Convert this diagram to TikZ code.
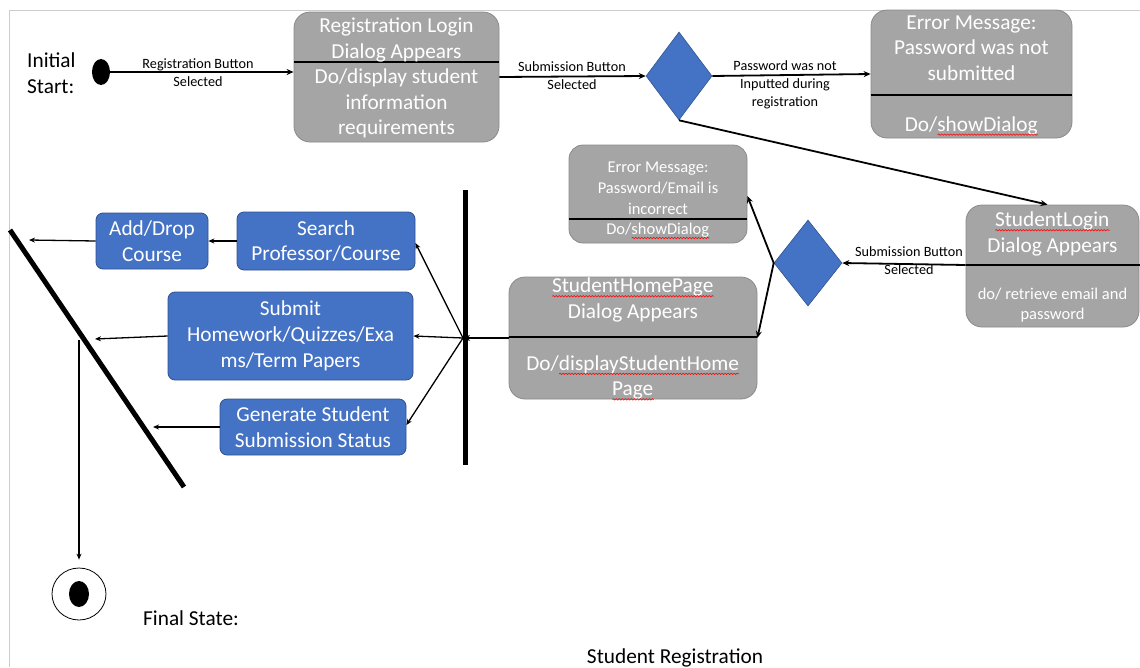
\documentclass[tikz,border=0pt]{standalone}
\usepackage{fontspec}
\setmainfont{Carlito}
\usetikzlibrary{arrows.meta,shapes.geometric,decorations.pathmorphing}
% red wavy underline used for the flagged words
\newsavebox\wavebox
\newcommand\spellwave[1]{\sbox\wavebox{#1}\rlap{\usebox\wavebox}%
  \tikz[baseline=0pt]\draw[red, line width=0.6pt, sharp corners, decorate,
    decoration={snake, amplitude=0.7pt, segment length=3pt}] (0pt,-3.5pt) -- (\wd\wavebox,-3.5pt);}
\definecolor{boxgray}{HTML}{A5A5A5}
\definecolor{boxedge}{HTML}{8A8A8A}
\definecolor{uiblue}{HTML}{4472C4}
\definecolor{blueedge}{HTML}{2F528F}
\definecolor{pagerule}{HTML}{CCCCCC}
\tikzset{
  graybox/.style={draw=boxedge, fill=boxgray, rounded corners=16pt, line width=0.8pt, inner sep=0pt},
  bluebox/.style={draw=blueedge, fill=uiblue, rounded corners=7pt, line width=0.8pt, inner sep=0pt,
    text=white, align=center, font=\fontsize{21.3}{25.8}\selectfont},
  bigtext/.style={text=white, align=center, inner sep=0pt, font=\fontsize{21.3}{25.6}\selectfont},
  smalltext/.style={text=white, align=center, inner sep=0pt, font=\fontsize{16.5}{20.8}\selectfont},
  caption/.style={align=left, inner sep=0pt, font=\fontsize{21.3}{26}\selectfont},
  guard/.style={align=center, inner sep=0pt, font=\fontsize{14.2}{17.8}\selectfont},
  divider/.style={line width=2pt},
  flow/.style={-{Stealth[length=7pt,width=6pt]}, line width=1.8pt},
  subflow/.style={-{Stealth[length=6pt,width=5pt]}, line width=1.3pt},
  decision/.style={diamond, fill=uiblue, draw=blueedge, line width=0.6pt, inner sep=0pt,
    minimum width=66pt, minimum height=88pt},
  bar/.style={line width=5pt}
}
\begin{document}
\begin{tikzpicture}[x=1pt, y=-1pt]
\useasboundingbox (0,0) rectangle (1140,667);

% page rules
\coordinate (pageTL) at (9,10);
\coordinate (pageTR) at (1140,10);
\coordinate (pageBL) at (9,667);
\draw[pagerule, line width=1pt] (pageTR) -- (pageTL) -- (pageBL);

% start
\node[caption, anchor=west] (startlbl) at (27,73) {Initial\\Start:};
\node[ellipse, fill=black, minimum width=18pt, minimum height=26pt, inner sep=0pt] (init) at (101,72) {};

% registration dialog
\node[graybox, minimum width=205pt, minimum height=130pt] (reg) at (396.5,77) {};
\draw[divider] (reg.west |- 0,62) -- (reg.east |- 0,62);
\node[bigtext] (regtxt) at (396.5,78) {Registration Login\\Dialog Appears\\Do/display student\\information\\requirements};

% first decision
\node[decision] (d1) at (679,76) {};

% password error
\node[graybox, minimum width=201pt, minimum height=128pt] (err1) at (971.5,74) {};
\draw[divider] (err1.west |- 0,95) -- (err1.east |- 0,95);
\node[bigtext] (err1top) at (971.5,48) {Error Message:\\Password was not\\submitted};
\node[bigtext] (err1bot) at (971.5,126) {Do/\spellwave{showDialog}};

% student login dialog
\node[graybox, minimum width=173pt, minimum height=122pt] (login) at (1052.5,266) {};
\coordinate (loginR) at (1140,265);
\draw[divider] (login.west |- 0,265) -- (loginR);
\node[bigtext] (logintop) at (1052.5,234) {\spellwave{StudentLogin}\\Dialog Appears};
\node[smalltext] (loginbot) at (1052.5,305) {do/ retrieve email and\\password};

% second decision
\node[decision, minimum width=68pt, minimum height=86pt] (d2) at (808,263) {};

% login error
\node[graybox, rounded corners=14pt, minimum width=178pt, minimum height=98pt] (err2) at (658,194) {};
\draw[divider] (err2.west |- 0,219) -- (err2.east |- 0,219);
\node[smalltext] (err2top) at (658,188) {Error Message:\\Password/Email is\\incorrect};
\node[smalltext] (err2bot) at (658,231) {Do/\spellwave{showDialog}};

% home page dialog
\node[graybox, minimum width=248pt, minimum height=122pt] (shp) at (633,338) {};
\draw[divider] (shp.west |- 0,337) -- (shp.east |- 0,337);
\node[bigtext] (shptop) at (633,300) {\spellwave{StudentHomePage}\\Dialog Appears};
\node[bigtext] (shpbot) at (633,378) {Do/\spellwave{displayStudentHome}\\\spellwave{Page}};

% fork
\coordinate (forkT) at (465,190);
\coordinate (forkB) at (465,465);
\coordinate (fork) at (463,338);
\draw[bar] (forkT) -- (forkB);

% student activities
\node[bluebox, minimum width=178pt, minimum height=58pt] (search) at (326,241) {Search\\Professor/Course};
\node[bluebox, minimum width=245pt, minimum height=88pt] (submit) at (290.5,336) {Submit\\Homework/Quizzes/Exa\\ms/Term Papers};
\node[bluebox, minimum width=186pt, minimum height=56pt] (generate) at (313,427) {Generate Student\\Submission Status};
\node[bluebox, minimum width=112pt, minimum height=56pt] (adddrop) at (152,241) {Add/Drop\\Course};

% join
\coordinate (joinT) at (10,230);
\coordinate (joinB) at (184,487);
\draw[bar] (joinT) -- (joinB);
\coordinate (jin1) at (29,240);
\coordinate (jin2) at (95,339);
\coordinate (jin3) at (153,427);
\coordinate (jout) at (79,340);

% final state
\node[ellipse, draw=black, line width=0.8pt, minimum width=54pt, minimum height=52pt, inner sep=0pt] (final) at (79,594) {};
\node[ellipse, fill=black, minimum width=20pt, minimum height=26pt, inner sep=0pt] (finaldot) at (79,594) {};
\node[caption, anchor=west] (finallbl) at (143,618) {Final State:};

% title
\node[font=\fontsize{21.3}{25}\selectfont, inner sep=0pt] (title) at (675,658) {Student Registration};

% transitions
\draw[flow] (init.east) -- ([yshift=5pt]reg.west);
\node[guard] (g1) at (198,73) {Registration Button\\Selected};
\draw[flow] (reg.east) -- (d1.west);
\node[guard] (g2) at (572,76) {Submission Button\\Selected};
\draw[flow] (d1.east) -- (err1.west);
\node[guard] (g3) at (785,84.5) {Password was not\\Inputted during\\registration};
\draw[flow] (d1.south) -- ([xshift=-5pt]login.north);
\draw[flow] (login.west |- 0,265) -- (d2.east);
\node[guard] (g4) at (909,261) {Submission Button\\Selected};
\draw[flow] (d2.west) -- ([yshift=-2pt]err2.east);
\draw[flow] (d2.west) -- (shp.east);
\draw[flow, line width=2.5pt] (shp.west) -- (fork);

\draw[subflow] (fork) -- ([yshift=-2pt]search.east);
\draw[subflow] (fork) -- (submit.east);
\draw[subflow] (fork) -- ([yshift=2pt]generate.east);
\draw[subflow] (search.west) -- (adddrop.east);
\draw[subflow] (adddrop.west) -- (jin1);
\draw[subflow] (submit.west) -- (jin2);
\draw[subflow] (generate.west) -- (jin3);
\draw[subflow] (jout) -- ([yshift=8pt]final.north);
\end{tikzpicture}
\end{document}
